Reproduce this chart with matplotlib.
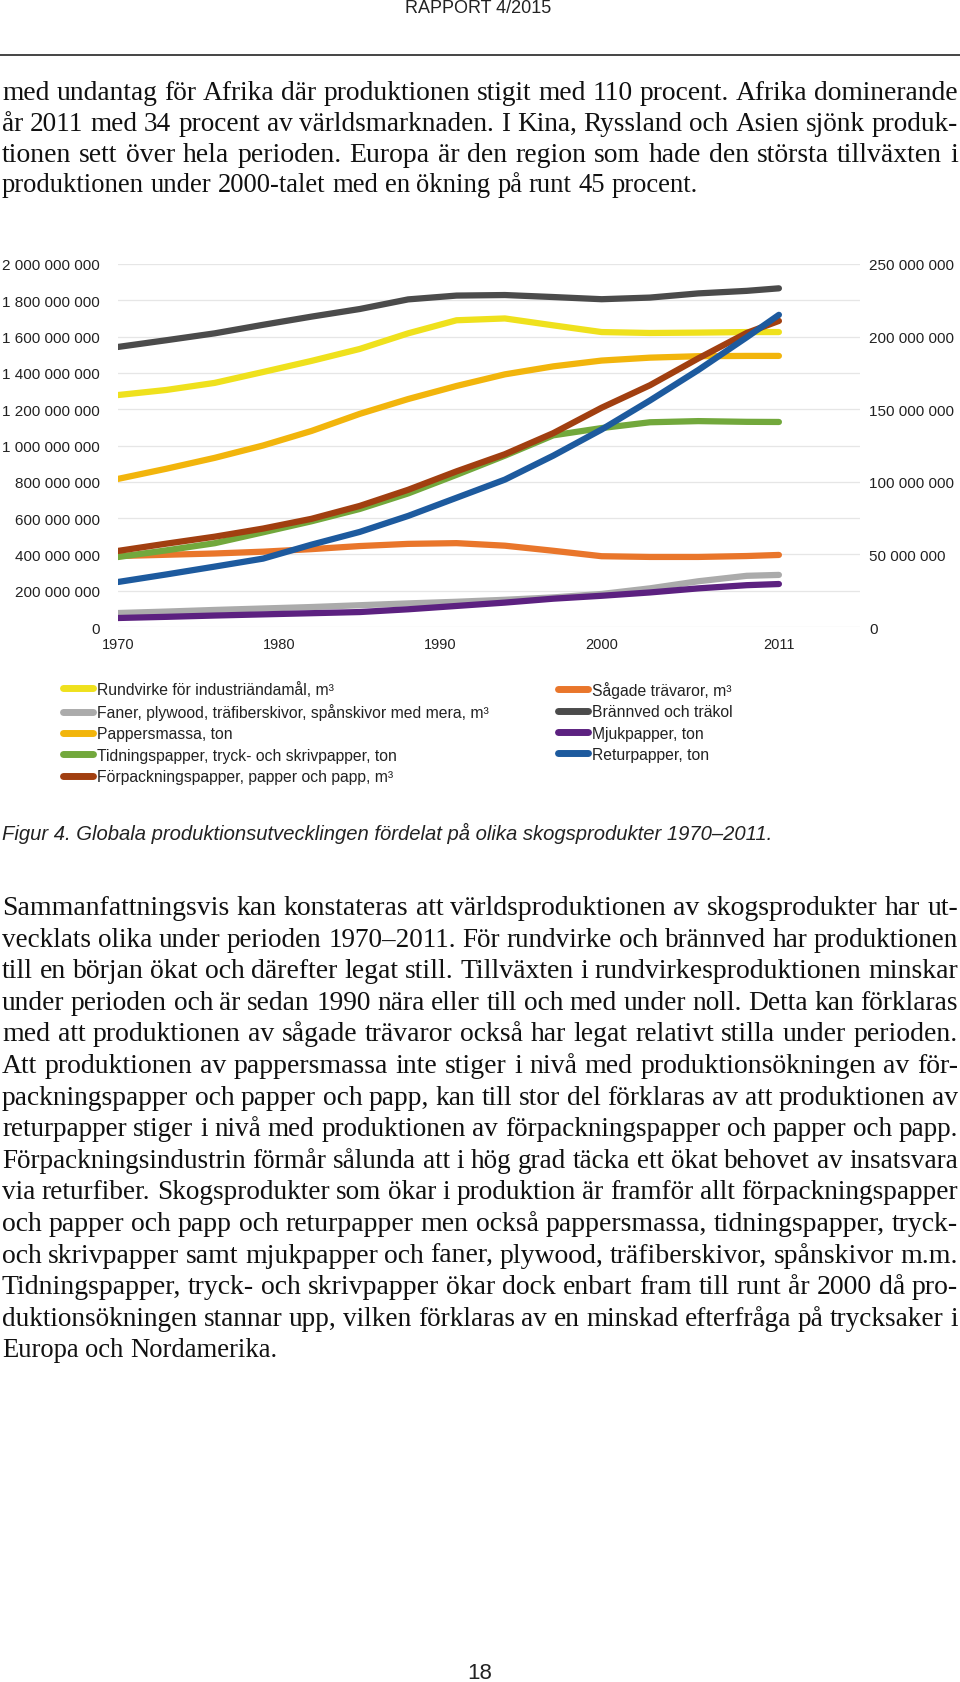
# page 18 of RAPPORT 4/2015: text + figure 4 (global production of forest products)
import matplotlib
matplotlib.use('Agg')
import matplotlib.pyplot as plt
from matplotlib.lines import Line2D
from matplotlib.ticker import FuncFormatter

# years the values were read at
years = [1970, 1973, 1976, 1979, 1982, 1985, 1988, 1991, 1994, 1997, 2000, 2003, 2006, 2009, 2011]

# left axis (millions)
rundvirke = [1278, 1306, 1345, 1405, 1466, 1532, 1618, 1690, 1700, 1662, 1625, 1620, 1622, 1625, 1625]
brannved = [1543, 1580, 1618, 1665, 1710, 1752, 1805, 1826, 1829, 1818, 1806, 1815, 1838, 1852, 1866]
sagade = [391, 398, 405, 415, 429, 446, 458, 462, 448, 420, 390, 386, 386, 391, 397]
faner = [77, 85, 94, 102, 110, 120, 130, 139, 150, 163, 182, 213, 252, 282, 287]

# right axis (millions)
pappersmassa = [102, 109, 116.5, 125, 135, 146.8, 157, 166, 174, 179.5, 183.5, 185.5, 186.5, 186.7, 186.7]
tidningspapper = [48.2, 52.8, 57.7, 65.2, 72.8, 81.3, 92, 104.8, 118, 132, 137, 141, 141.8, 141.3, 141.2]
forpackning = [52.4, 57.4, 62.2, 67.8, 74.5, 83.4, 94.5, 107.2, 119, 133.5, 151, 166.5, 185, 202.5, 210.8]
mjukpapper = [6.2, 7.0, 7.9, 8.7, 9.5, 10.3, 12.2, 14.5, 16.8, 19.5, 21.5, 23.8, 26.6, 28.8, 29.6]
returpapper = [31, 36.2, 41.6, 47.1, 56.7, 65.5, 76.5, 89, 101.5, 118, 136, 156, 177, 199.5, 215]

left_ticks = [0, 200, 400, 600, 800, 1000, 1200, 1400, 1600, 1800, 2000]
right_ticks = [0, 50, 100, 150, 200, 250]
x_ticks = [1970, 1980, 1990, 2000, 2011]

labels_col1 = ["Rundvirke för industriändamål, m³",
               "Faner, plywood, träfiberskivor, spånskivor med mera, m³",
               "Pappersmassa, ton",
               "Tidningspapper, tryck- och skrivpapper, ton",
               "Förpackningspapper, papper och papp, m³"]
labels_col2 = ["Sågade trävaror, m³", "Brännved och träkol", "Mjukpapper, ton", "Returpapper, ton"]

c_rund, c_faner, c_massa, c_tidn, c_forp = '#EFE11D', '#ABABAB', '#F2B50C', '#72A83C', '#A13F10'
c_sag, c_bran, c_mjuk, c_retur = '#E9762B', '#4B4B4B', '#5C2180', '#1D5A9E'

para1 = ["med undantag för Afrika där produktionen stigit med 110 procent. Afrika dominerande",
         "år 2011 med 34 procent av världsmarknaden. I Kina, Ryssland och Asien sjönk produk-",
         "tionen sett över hela perioden. Europa är den region som hade den största tillväxten i",
         "produktionen under 2000-talet med en ökning på runt 45 procent."]
para2 = ["Sammanfattningsvis kan konstateras att världsproduktionen av skogsprodukter har ut-",
         "vecklats olika under perioden 1970–2011. För rundvirke och brännved har produktionen",
         "till en början ökat och därefter legat still. Tillväxten i rundvirkesproduktionen minskar",
         "under perioden och är sedan 1990 nära eller till och med under noll. Detta kan förklaras",
         "med att produktionen av sågade trävaror också har legat relativt stilla under perioden.",
         "Att produktionen av pappersmassa inte stiger i nivå med produktionsökningen av för-",
         "packningspapper och papper och papp, kan till stor del förklaras av att produktionen av",
         "returpapper stiger i nivå med produktionen av förpackningspapper och papper och papp.",
         "Förpackningsindustrin förmår sålunda att i hög grad täcka ett ökat behovet av insatsvara",
         "via returfiber. Skogsprodukter som ökar i produktion är framför allt förpackningspapper",
         "och papper och papp och returpapper men också pappersmassa, tidningspapper, tryck-",
         "och skrivpapper samt mjukpapper och faner, plywood, träfiberskivor, spånskivor m.m.",
         "Tidningspapper, tryck- och skrivpapper ökar dock enbart fram till runt år 2000 då pro-",
         "duktionsökningen stannar upp, vilken förklaras av en minskad efterfråga på trycksaker i",
         "Europa och Nordamerika."]

plt.rcParams['font.family'] = 'Liberation Sans'
W, H = 960, 1683
fig = plt.figure(figsize=(W / 100, H / 100), dpi=100)


def fx(px):
    return px / W


def fy(py):
    return 1 - py / H


# header and rule
fig.text(fx(478), fy(13), "RAPPORT 4/2015", ha='center', va='baseline', fontsize=13, color='#222222')
fig.add_artist(Line2D([0, 1], [fy(56), fy(56)], color='#444444', lw=1.4))

# chart
ax = fig.add_axes([fx(118), fy(628), (860 - 118) / W, (628 - 265) / H])
ax2 = ax.twinx()
M = 1e6
lw = 4.5
ax.plot(years, [v * M for v in rundvirke], color=c_rund, lw=lw, solid_capstyle='round')
ax.plot(years, [v * M for v in faner], color=c_faner, lw=lw, solid_capstyle='round')
ax.plot(years, [v * M for v in sagade], color=c_sag, lw=lw, solid_capstyle='round')
ax.plot(years, [v * M for v in brannved], color=c_bran, lw=lw, solid_capstyle='round')
ax2.plot(years, [v * M for v in pappersmassa], color=c_massa, lw=lw, solid_capstyle='round')
ax2.plot(years, [v * M for v in tidningspapper], color=c_tidn, lw=lw, solid_capstyle='round')
ax2.plot(years, [v * M for v in forpackning], color=c_forp, lw=lw, solid_capstyle='round')
ax2.plot(years, [v * M for v in mjukpapper], color=c_mjuk, lw=lw, solid_capstyle='round')
ax2.plot(years, [v * M for v in returpapper], color=c_retur, lw=lw, solid_capstyle='round')

spaced = FuncFormatter(lambda v, p: f"{int(round(v)):,}".replace(',', ' '))
ax.set_xlim(1970, 2016.03)
ax.set_ylim(0, 2000 * M)
ax2.set_ylim(0, 250 * M)
ax.set_yticks([v * M for v in left_ticks])
ax2.set_yticks([v * M for v in right_ticks])
ax.set_xticks(x_ticks)
ax.yaxis.set_major_formatter(spaced)
ax2.yaxis.set_major_formatter(spaced)
ax.tick_params(axis='y', length=0, pad=13, labelsize=11, labelcolor='#222222')
ax2.tick_params(axis='y', length=0, pad=6.5, labelsize=11, labelcolor='#222222')
ax.tick_params(axis='x', length=0, pad=7, labelsize=10.5, labelcolor='#222222')
ax.yaxis.grid(True, color='#E6E6E6', lw=0.9)
ax.set_axisbelow(True)
for a in (ax, ax2):
    for s in a.spines.values():
        s.set_visible(False)

# legend, two columns
h1 = [Line2D([], [], color=c, lw=5, solid_capstyle='round') for c in (c_rund, c_faner, c_massa, c_tidn, c_forp)]
h2 = [Line2D([], [], color=c, lw=5, solid_capstyle='round') for c in (c_sag, c_bran, c_mjuk, c_retur)]
leg_kw = dict(loc='upper left', frameon=False, fontsize=11.3, handlelength=1.9, handletextpad=0.25,
              labelspacing=0.4, borderpad=0, borderaxespad=0, labelcolor='#222222')
fig.legend(h1, labels_col1, bbox_to_anchor=(fx(63), fy(682)), **leg_kw)
fig.legend(h2, labels_col2, bbox_to_anchor=(fx(558), fy(682)), **leg_kw)

# caption
fig.text(fx(2), fy(840), "Figur 4. Globala produktionsutvecklingen fördelat på olika skogsprodukter 1970–2011.",
         style='italic', fontsize=14.6, va='baseline', color='#222222')

# body text, justified (font size nudged per line, like glyph scaling)
renderer = fig.canvas.get_renderer()
body_size = 19.2


def words_at(words, base_y, size):
    ts = [fig.text(0, fy(base_y), w, fontsize=size, family='Liberation Serif',
                   va='baseline', color='#111111') for w in words]
    return ts, [t.get_window_extent(renderer).width for t in ts]


def put_line(line, base_y, justify=True, x0=2, x1=958):
    words = line.split(' ')
    size = body_size
    ts, ws = words_at(words, base_y, size)
    space = size * 100 / 72 * 0.25
    if justify and len(words) > 1:
        natural = sum(ws) + space * (len(words) - 1)
        scale = min(max((x1 - x0) / natural, 0.95), 1.04)
        if abs(scale - 1) > 1e-3:
            for t in ts:
                t.remove()
            size = body_size * scale
            ts, ws = words_at(words, base_y, size)
        gap = (x1 - x0 - sum(ws)) / (len(words) - 1)
    else:
        gap = space
    x = x0
    for t, w in zip(ts, ws):
        t.set_x(fx(x))
        x += w + gap


for i, line in enumerate(para1):
    put_line(line, 100.5 + i * 30.5, justify=(i < len(para1) - 1))
for i, line in enumerate(para2):
    put_line(line, 915 + i * 31.6, justify=(i < len(para2) - 1))

# page number
fig.text(fx(480), fy(1679), "18", ha='center', va='baseline', fontsize=16, color='#222222')

fig.savefig("out.png", dpi=100)
